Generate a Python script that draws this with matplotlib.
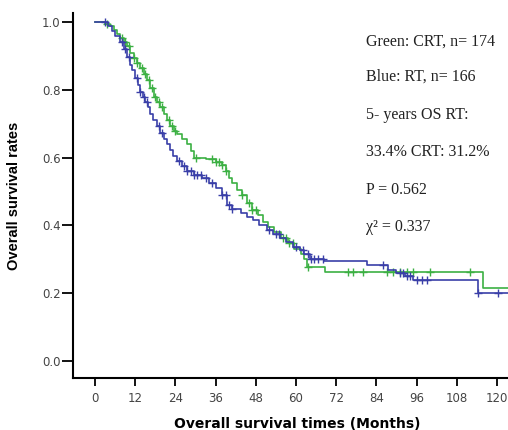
import numpy as np
import matplotlib.pyplot as plt

# Kaplan-Meier step points (months, survival)
crt_t = [0, 3.0, 4.5, 5.5, 6.5, 7.5, 8.5, 9.5, 10.5, 11.5, 12.5, 13.5, 14.5, 15.5,
         16.5, 17.5, 18.5, 19.5, 20.5, 21.5, 22.5, 23.5, 24.5, 26, 27.5, 28.5, 29.5,
         33, 36, 38, 39, 40, 41, 42.5, 44, 45.5, 47, 48.5, 50, 51.5, 53.5, 55.5,
         57.5, 59.5, 61.5, 62.5, 63.3, 68.8, 115.8, 123.5]
crt_s = [1.0, 0.994, 0.988, 0.976, 0.965, 0.953, 0.941, 0.93, 0.91, 0.895, 0.88, 0.865,
         0.848, 0.83, 0.805, 0.78, 0.765, 0.75, 0.73, 0.71, 0.695, 0.68, 0.67, 0.655,
         0.64, 0.62, 0.60, 0.595, 0.588, 0.578, 0.56, 0.54, 0.525, 0.505, 0.49, 0.465,
         0.445, 0.43, 0.41, 0.395, 0.38, 0.362, 0.348, 0.33, 0.315, 0.30, 0.278, 0.263,
         0.215, 0.215]
crt_cens = [3.5, 8, 9, 10, 11.5, 12.5, 14, 15, 16, 17, 18, 19, 20, 22, 23, 24, 30,
            35, 36, 37, 38, 39, 44, 46, 47, 48, 56, 57, 58, 59, 63.7, 75.6, 77.1,
            80.1, 87.1, 89.1, 91.0, 93.0, 95.0, 100.0, 111.9]

rt_t = [0, 4, 5, 6, 7.5, 8.5, 9.5, 10.5, 11, 12, 12.8, 13.5, 14.2, 15, 15.8, 16.5,
        17.3, 18.5, 19.5, 20.5, 21.5, 22.4, 23.3, 24.5, 26, 27.5, 29.5, 32, 34, 36,
        38, 39.5, 41, 43.5, 45.5, 47.2, 49, 51.3, 53, 55.2, 57, 59, 61.2, 62.5, 64.2,
        68.4, 81.1, 87.5, 90, 92.5, 95, 114.2, 123.5]
rt_s = [1.0, 0.99, 0.975, 0.96, 0.94, 0.92, 0.898, 0.875, 0.858, 0.835, 0.815, 0.795,
        0.78, 0.765, 0.75, 0.73, 0.71, 0.695, 0.672, 0.655, 0.64, 0.622, 0.605, 0.59,
        0.575, 0.56, 0.55, 0.54, 0.525, 0.51, 0.49, 0.46, 0.45, 0.437, 0.425, 0.415,
        0.40, 0.386, 0.375, 0.363, 0.35, 0.337, 0.327, 0.315, 0.302, 0.295, 0.283,
        0.27, 0.26, 0.25, 0.24, 0.20, 0.20]
rt_cens = [3, 8, 9, 10, 12.5, 13.5, 14.5, 15.5, 19, 20, 25, 26.5, 27.5, 28.5, 29.5,
           30.5, 31.5, 33, 35, 38, 39, 40, 41, 52, 54, 55, 60, 62, 63.6, 64.5, 65.5,
           66.5, 68, 86, 91, 92, 93, 94, 96, 97.5, 99, 114.4, 120.4]

notes = ["Green: CRT, n= 174", "Blue: RT, n= 166", "5- years OS RT:",
         "33.4% CRT: 31.2%", "P = 0.562", "χ² = 0.337"]

green = '#3cb043'
blue = '#3a3fa8'

fig = plt.figure(figsize=(5.08, 4.30), dpi=100)
ax = fig.add_axes([0.1437, 0.1209, 0.8563, 0.8489])


def surv_at(t, s, x):
    idx = np.searchsorted(t, x, side='right') - 1
    return np.asarray(s)[idx]


for t, s, c, col in [(crt_t, crt_s, crt_cens, green), (rt_t, rt_s, rt_cens, blue)]:
    ax.plot(t, s, drawstyle='steps-post', color=col, lw=1.2)
    ax.plot(c, surv_at(t, s, c), '+', color=col, ms=5.5, mew=1.0)

ax.set_xlim(-6.6, 123.3)
ax.set_ylim(-0.05, 1.027)
ax.set_xticks(np.arange(0, 121, 12))
ax.set_yticks([0.0, 0.2, 0.4, 0.6, 0.8, 1.0])
ax.set_yticklabels(['0.0', '0.2', '0.4', '0.6', '0.8', '1.0'])
for sp in ['top', 'right']:
    ax.spines[sp].set_visible(False)
for sp in ['left', 'bottom']:
    ax.spines[sp].set_linewidth(1.5)
ax.tick_params(axis='y', length=8, width=1.3, pad=1, labelsize=8.5, labelcolor='#444444')
ax.tick_params(axis='x', length=6, width=1.3, pad=4, labelsize=8.5, labelcolor='#444444')

ax.set_xlabel('Overall survival times (Months)', fontsize=10, fontweight='bold',
              family='DejaVu Sans', va='center')
ax.xaxis.set_label_coords(0.515, -0.125)
ax.set_ylabel('Overall survival rates', fontsize=10.5, fontweight='bold',
              family='Liberation Sans', va='center')
ax.yaxis.set_label_coords(-0.135, 0.5)

ys = [42, 77, 115, 152, 190, 227]
for txt, yp in zip(notes, ys):
    fig.text(366 / 508, 1 - yp / 430, txt, family='Liberation Serif', fontsize=11.5,
             va='center', ha='left', color='#222222')

fig.savefig('out.png', dpi=100)
